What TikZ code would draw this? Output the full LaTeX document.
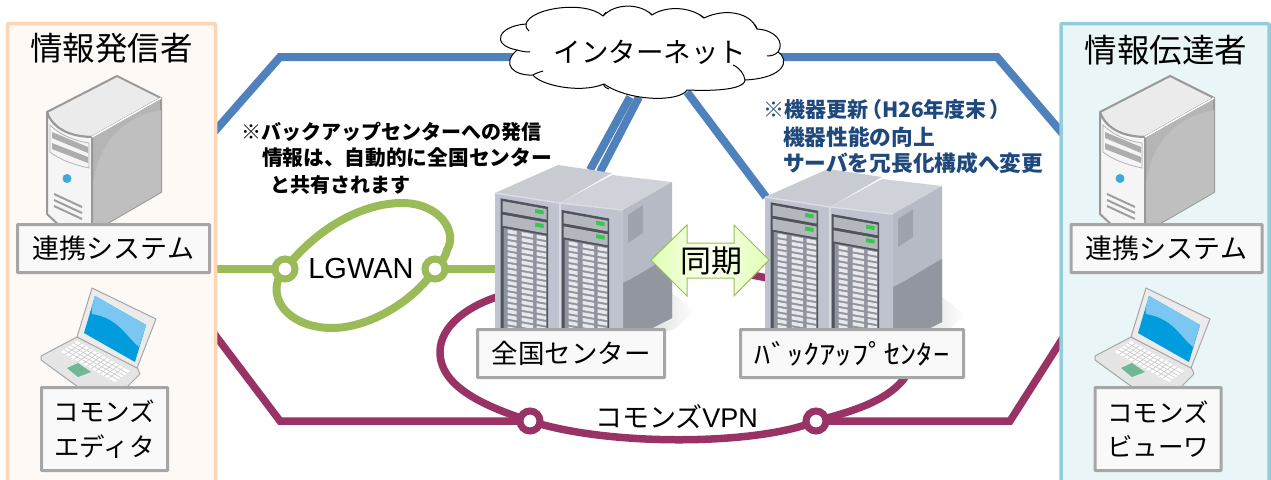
\documentclass[tikz,border=0pt]{standalone}
\usepackage{fontspec}
\setmainfont{Noto Sans CJK JP}
\newfontfamily\latinfont{Liberation Sans}
\newcommand{\pxfont}[1]{\fontsize{#1}{#1}\selectfont}
\definecolor{netblue}{HTML}{4F81BD}
\definecolor{netgreen}{HTML}{9BBB59}
\definecolor{netpurple}{HTML}{993366}
\definecolor{noteblue}{HTML}{1F497D}
\definecolor{boxgray}{HTML}{A6A6A6}
\definecolor{boxfill}{HTML}{F9F9F9}
\definecolor{rTop}{HTML}{C8CBD1}
\definecolor{rTopB}{HTML}{CFD2D8}
\definecolor{rFront}{HTML}{BEC3CF}
\definecolor{rEdge}{HTML}{D9DCE3}
\definecolor{rSide}{HTML}{B6BAC5}
\definecolor{rLow}{HTML}{91969F}
\definecolor{rVent}{HTML}{9FA3AD}
\definecolor{rDark}{HTML}{4E535C}
\definecolor{rBay}{HTML}{B4B8BE}
\definecolor{rMid}{HTML}{8F949E}
\definecolor{rCell}{HTML}{E6E8EC}
\definecolor{rLed}{HTML}{35C84A}
\definecolor{lapScreen}{HTML}{009CDE}
\definecolor{lapGlow}{HTML}{7CC7F2}
\definecolor{lapPad}{HTML}{6FB797}
\definecolor{towerDot}{HTML}{3FA9D8}
\newcommand{\rackfront}{%
  \fill[rDark] (0,0) rectangle (47.5,140);
  \fill[rBay] (2,2.5) rectangle (46,13);
  \fill[rBay] (2,16) rectangle (46,27);
  \fill[rLed] (34.5,4.5) rectangle (43,8.5);
  \fill[rLed] (34.5,18) rectangle (43,22);
  \fill[rMid] (3,29) rectangle (46,140);
  \foreach \r in {0,...,18}{
    \fill[rCell] (7,30+5.7*\r) rectangle (16,33.6+5.7*\r);
    \fill[rCell] (21,30+5.7*\r) rectangle (32.5,33.6+5.7*\r);
    \fill[rCell] (36,30+5.7*\r) rectangle (45.5,33.6+5.7*\r);
  }
}
\tikzset{
  x=1pt,y=-1pt,
  bluelink/.style={draw=netblue,line width=8pt},
  bluethin/.style={draw=netblue,line width=8pt},
  greenlink/.style={draw=netgreen,line width=8pt},
  purplelink/.style={draw=netpurple,line width=7.5pt},
  junction/.style={circle,fill=white,line width=7pt,minimum size=20pt,inner sep=0pt},
  labelbox/.style={draw=boxgray,fill=boxfill,line width=3pt,rounded corners=0.5pt},
  plain/.style={inner sep=0pt,outer sep=0pt,text=black},
  panelsrc/.style={draw={rgb,255:red,252;green,213;blue,181},fill={rgb,255:red,255;green,249;blue,245},line width=3.5pt,rounded corners=1pt},
  paneldst/.style={draw={rgb,255:red,146;green,205;blue,220},fill={rgb,255:red,234;green,245;blue,248},line width=3.5pt,rounded corners=1pt},
  towerart/.pic={
    \draw[draw=black!40,line width=2pt,line join=round,fill=black!8] (47,112) -- (117,76) -- (161,98) -- (92,137) .. controls (70,137) and (52,128) .. (47,112) -- cycle;
    \draw[draw=black!40,line width=2pt,line join=round,fill=black!29] (92,137) -- (161,98) -- (161,192) -- (92,232) -- cycle;
    \fill[black!25] (92,232) -- (92,190) .. controls (97,145) and (120,118) .. (161,110) -- (161,192) -- cycle;
    \draw[draw=black!40,line width=2pt,line join=round,fill=black!4] (47,112) .. controls (52,128) and (70,137) .. (92,137) -- (92,232) -- (62,228) -- (47,214) -- cycle;
    \draw[white,line width=1.5pt] (92,137) -- (161,98);
    \draw[black!30,line width=.8pt,fill=black!4] (50,125) .. controls (60,135) and (75,141) .. (89,143) -- (89,168) .. controls (75,165) and (60,160) .. (50,152) -- cycle;
    \fill[black!32] (52,132) -- (88,147) -- (88,153) -- (52,138) -- cycle;
    \fill[black!32] (52,143) -- (88,157) -- (88,163) -- (52,149) -- cycle;
    \fill[towerDot] (67,178.5) circle (4.5pt);
    \foreach \d in {0,6,12}{\draw[black!38,line width=2pt] (54,194+\d) -- (82,207+\d);}
  },
  laptopart/.pic={
    \draw[draw=black!35,line width=1pt,line join=round,fill=black!10] (77,337) -- (41,356) -- (41,360) -- (85,392) -- (122,392) -- (140,374) -- (137,367) -- cycle;
    \fill[white] (61,352) -- (77,341) -- (130,371) -- (115,382) -- cycle;
    \foreach \s in {.2,.4,.6,.8}{\draw[black!20,line width=.7pt] ($(61,352)!\s!(77,341)$) -- ($(115,382)!\s!(130,371)$);}
    \foreach \s in {.08,.16,...,.95}{\draw[black!20,line width=.7pt] ($(61,352)!\s!(115,382)$) -- ($(77,341)!\s!(130,371)$);}
    \fill[lapPad] (67,368) -- (78,363) -- (91,372) -- (78,377) -- cycle;
    \draw[draw=black!35,line width=1pt,line join=round,fill=black!8] (92,288) -- (156,319) -- (137,368) -- (77,337) -- cycle;
    \fill[lapScreen] (95,296) -- (146,325) -- (135,362) -- (84,333) -- cycle;
    \fill[lapGlow] (95,296) -- (146,325) -- (139,347) .. controls (125,335) and (118,318) .. (92,314) .. controls (91,310) and (93,302) .. (95,296) -- cycle;
  },
  rackart/.pic={
    \path[left color=black!14,right color=white,draw=none] (177,100) -- (200,118) -- (180,136) -- (150,145) -- cycle;
    \fill[rTopB] (65,10) -- (117,-18) -- (177,-11) -- (128,17) -- cycle;
    \fill[rTop] (0,0) -- (63,-28) -- (117,-20) -- (65,10) -- cycle;
    \fill[rSide] (128,17) -- (177,-11) -- (177,125) -- (128,150) -- cycle;
    \fill[rLow] (128,90) .. controls (145,82) and (165,68) .. (177,62) -- (177,125) -- (128,150) -- cycle;
    \fill[rVent] (133,22) -- (148,12) -- (148,40) -- (133,50) -- cycle;
    \fill[rFront] (0,0) -- (65,10) -- (128,17) -- (128,150) -- (0,140) -- cycle;
    \draw[rEdge,line width=1.5pt] (0,0) -- (65,10) -- (128,17);
    \draw[rEdge,line width=1.5pt] (65,10) -- (65,140);
    \begin{scope}[shift={(5.7,5.3)},yslant=-0.18]\rackfront\end{scope}
    \begin{scope}[shift={(66.7,17)},yslant=-0.18]\rackfront\end{scope}
  },
}
\usetikzlibrary{calc}
\begin{document}
\begin{tikzpicture}[x=1pt,y=-1pt]
\useasboundingbox (0,0) rectangle (1271,479);

% named anchor points
\coordinate (srcIn) at (200,148);
\coordinate (bTL) at (280,57);
\coordinate (cloudL) at (515,57);
\coordinate (cloudR) at (775,57);
\coordinate (bTR) at (997,57);
\coordinate (dstIn) at (1075,148);
\coordinate (pSrc) at (200,315);
\coordinate (pBL) at (280,421);
\coordinate (pBR) at (1010,421);
\coordinate (pDst) at (1075,319);
\coordinate (gSrc) at (200,269);
\coordinate (gRack) at (500,269);
\coordinate (c1a) at (630,97);
\coordinate (r1a) at (590,170);
\coordinate (c1b) at (639,97);
\coordinate (r1b) at (600,172);
\coordinate (c2) at (687,92);
\coordinate (r2) at (766,197);
\coordinate (vL) at (530,421);
\coordinate (vR) at (816,421);
\coordinate (gL) at (285,269);
\coordinate (gR) at (435,269);

% internet links
\draw[bluelink,line join=miter] (srcIn) -- (bTL) -- (cloudL);
\draw[bluelink,line join=miter] (cloudR) -- (bTR) -- (dstIn);
\draw[bluethin] (c1a) -- (r1a);
\draw[bluethin] (c1b) -- (r1b);
\draw[bluelink] (c2) -- (r2);

% VPN
\draw[purplelink,line join=miter] (pSrc) -- (pBL) -- (vL);
\draw[purplelink,line join=miter] (vR) -- (pBR) -- (pDst);
\draw[purplelink] (vL) .. controls (480,405) and (440,385) .. (440,352)
  .. controls (440,325) and (470,305) .. (500,296)
  .. controls (580,265) and (690,262) .. (762,277)
  .. controls (880,300) and (935,340) .. (903,380)
  .. controls (885,402) and (850,412) .. (vR)
  .. controls (760,445) and (610,447) .. (vL) -- cycle;

% LGWAN
\draw[greenlink] (gSrc) -- (gL);
\draw[greenlink] (gR) -- (gRack);
\draw[greenlink] (gL) .. controls (320,225) and (365,203) .. (402,203)
  .. controls (440,203) and (458,232) .. (447,250)
  .. controls (446,256) and (442,262) .. (gR)
  .. controls (415,300) and (370,328) .. (332,328)
  .. controls (295,328) and (270,305) .. (278,280) -- (gL) -- cycle;

% panels
\path[panelsrc] (7.5,23.5) rectangle (215.5,490);
\path[paneldst] (1061,23.5) rectangle (1269,490);
\node[plain,font=\pxfont{32.5}] (srcTitle) at (111.5,48) {情報発信者};
\node[plain,font=\pxfont{32.5}] (dstTitle) at (1166,50) {情報伝達者};

% machines
\pic at (0,0) {towerart};
\pic at (1053,0) {towerart};
\pic at (0,0) {laptopart};
\pic at (1054,0) {laptopart};
\pic at (495,193) {rackart};
\pic at (765,197) {rackart};

% boxes
\node[labelbox,minimum width=192pt,minimum height=48pt,inner sep=0pt,font=\pxfont{27}] (linkL) at (113.5,248.5) {連携システム};
\node[labelbox,minimum width=191pt,minimum height=48pt,inner sep=0pt,font=\pxfont{27}] (linkR) at (1166.5,248.5) {連携システム};
\node[labelbox,minimum width=126pt,minimum height=83pt,inner sep=0pt,align=center,font=\pxfont{25.5}] (edit) at (104.5,429) {コモンズ\\[9pt]エディタ};
\node[labelbox,minimum width=126pt,minimum height=83pt,inner sep=0pt,align=center,font=\pxfont{25.5}] (view) at (1158,429) {コモンズ\\[9pt]ビューワ};
\node[labelbox,minimum width=187pt,minimum height=48pt,inner sep=0pt,font=\pxfont{26.5}] (natl) at (571,353.5) {全国センター};
\node[labelbox,minimum width=223pt,minimum height=48pt,inner sep=0pt,font=\pxfont{27}] (backup) at (852,353.5) {\scalebox{1.2}[1]{ﾊﾞｯｸｱｯﾌﾟｾﾝﾀｰ}};

% junctions
\node[junction,draw=netgreen] (gLnode) at (gL) {};
\node[junction,draw=netgreen] (gRnode) at (gR) {};
\node[junction,draw=netpurple] (vLnode) at (vL) {};
\node[junction,draw=netpurple] (vRnode) at (vR) {};

% cloud
\path[fill=white] (526,24) .. controls (530,8) and (585,0) .. (603,16)
  .. controls (615,3) and (640,3) .. (652,15)
  .. controls (665,6) and (690,6) .. (704,18)
  .. controls (725,8) and (750,12) .. (757,29)
  .. controls (775,30) and (785,42) .. (778,52)
  .. controls (790,60) and (785,78) .. (745,80)
  .. controls (745,85) and (735,92) .. (687,90)
  .. controls (680,102) and (630,102) .. (604,84)
  .. controls (580,94) and (540,85) .. (533,75)
  .. controls (515,76) and (500,65) .. (517,50)
  .. controls (490,45) and (498,26) .. (526,24) -- cycle;
\draw[black,line width=1pt,line join=round] (526,24) .. controls (530,8) and (585,0) .. (603,16)
  .. controls (615,3) and (640,3) .. (652,15)
  .. controls (665,6) and (690,6) .. (704,18)
  .. controls (725,8) and (750,12) .. (757,29)
  .. controls (775,30) and (785,42) .. (778,52)
  .. controls (790,60) and (785,78) .. (745,80)
  .. controls (745,85) and (735,92) .. (687,90)
  .. controls (680,102) and (630,102) .. (604,84)
  .. controls (580,94) and (540,85) .. (533,75)
  .. controls (515,76) and (500,65) .. (517,50)
  .. controls (490,45) and (498,26) .. (526,24) -- cycle;
\draw[black,line width=1pt] (526,24) .. controls (525,27) and (527,29) .. (529,31);
\draw[black,line width=1pt] (517,50) .. controls (520,51) and (525,52) .. (530,52);
\draw[black,line width=1pt] (533,75) .. controls (536,73) and (540,72) .. (543,71);
\draw[black,line width=1pt] (604,84) .. controls (603,86) and (606,88) .. (609,89);
\draw[black,line width=1pt] (745,80) .. controls (744,74) and (740,68) .. (733,65);
\draw[black,line width=1pt] (778,52) .. controls (775,55) and (771,56) .. (767,56);
\draw[black,line width=1pt] (757,29) .. controls (757,27) and (755,25) .. (754,24);
\draw[black,line width=1pt] (704,18) .. controls (703,17) and (702,16) .. (700,15);
\draw[black,line width=1pt] (652,15) .. controls (651,14) and (650,13) .. (649,12);
\draw[black,line width=1pt] (603,16) .. controls (604,15) and (605,13) .. (606,12);
\node[plain,font=\pxfont{27.5}] (inet) at (650,52) {インターネット};

% sync arrow
\path[draw=netgreen,line width=1pt,left color=green!40!yellow!30!white,right color=green!40!yellow!30!white,middle color=green!30!yellow!6!white]
  (651,260) -- (687,225) -- (687,243) -- (734,243) -- (734,225) -- (769,260)
  -- (734,296) -- (734,278) -- (687,278) -- (687,296) -- cycle;
\node[plain,font=\pxfont{31}] (sync) at (711,261) {同期};

% labels
\node[plain,font={\latinfont\pxfont{29}}] (lgwan) at (361,269) {LGWAN};
\node[plain,anchor=west,font=\pxfont{27}] (vpn) at (595,417) {コモンズ{\latinfont VPN}};

% notes
\node[plain,anchor=west,font=\pxfont{20}\bfseries] (n1) at (241,132) {※バックアップセンターへの発信};
\node[plain,anchor=west,font=\pxfont{20.7}\bfseries] (n2) at (262,158) {情報は、自動的に全国センター};
\node[plain,anchor=west,font=\pxfont{20}\bfseries] (n3) at (270,185) {と共有されます};
\node[plain,anchor=west,font=\pxfont{21}\bfseries,text=noteblue] (m1) at (763,110) {※機器更新\kern-7pt（H26年度末\kern3pt）};
\node[plain,anchor=west,font=\pxfont{21.7}\bfseries,text=noteblue] (m2) at (783,137) {機器性能の向上};
\node[plain,anchor=west,font=\pxfont{21.7}\bfseries,text=noteblue] (m3) at (783,163) {サーバを冗長化構成へ変更};
\end{tikzpicture}
\end{document}
